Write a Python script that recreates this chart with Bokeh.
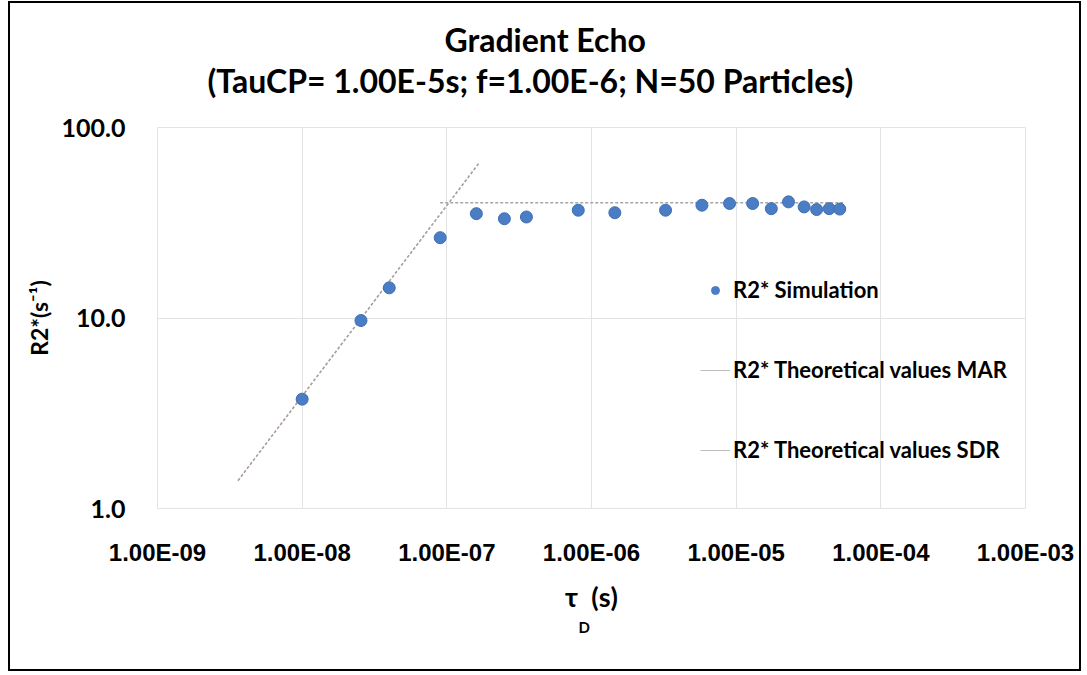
from bokeh.plotting import figure
from bokeh.models import (Range1d, FixedTicker, CustomJSTickFormatter, Legend,
                          LegendItem, Title, ColumnDataSource)
from bokeh.embed import file_html
from bokeh.resources import INLINE

# --- data -------------------------------------------------------------
x_ticks = [1e-9, 1e-8, 1e-7, 1e-6, 1e-5, 1e-4, 1e-3]
y_ticks = [1.0, 10.0, 100.0]

# simulated R2* against diffusion time tau_D
tau_sim = [1.0e-8, 2.55e-8, 4.0e-8, 9.0e-8, 1.6e-7, 2.5e-7, 3.55e-7, 8.1e-7,
           1.45e-6, 3.25e-6, 5.8e-6, 9.0e-6, 1.3e-5, 1.75e-5, 2.3e-5,
           2.95e-5, 3.6e-5, 4.4e-5, 5.2e-5]
r2_sim = [3.75, 9.7, 14.4, 26.4, 35.3, 33.2, 33.9, 36.8, 35.7, 36.8, 39.1,
          39.9, 39.9, 37.5, 40.7, 38.3, 37.1, 37.5, 37.3]

# theoretical regimes
tau_mar = [3.6e-9, 1.66e-7]
r2_mar = [1.40, 64.7]
tau_sdr = [9.0e-8, 5.5e-5]
r2_sdr = [40.3, 40.3]

TITLE_1 = "Gradient Echo"
TITLE_2 = "(TauCP= 1.00E-5s; f=1.00E-6; N=50 Particles)"
Y_LABEL = "R2*(s\u207b\u00b9)"
X_LABEL = "\u03c4\u2002(s)"   # tau, gap, (s); the subscript D sits in the gap
X_SUB = "D"

FONT = "Lato"
GRID = "#e3e3e3"
BLUE = "#4a7dc4"

p = figure(width=1073, height=670,
           x_axis_type="log", y_axis_type="log",
           x_range=Range1d(1e-9, 1e-3), y_range=Range1d(1, 100),
           output_backend="svg", toolbar_location=None,
           min_border_left=147, min_border_right=58,
           min_border_top=124, min_border_bottom=165,
           margin=(1, 0, 0, 8),
           styles={"border": "2px solid black"},
           background_fill_color="white", border_fill_color="white",
           outline_line_color=GRID)

# title block: a blank spacer next to the frame, then the two title lines
spacer = Title(text=" ", text_font_size="10px", standoff=15)
t2 = Title(text=TITLE_2, align="left", offset=50,
           text_font=FONT, text_font_size="32px", text_font_style="bold",
           text_color="black", standoff=0)
t1 = Title(text=TITLE_1, align="left", offset=287,
           text_font=FONT, text_font_size="32px", text_font_style="bold",
           text_color="black", standoff=0)
p.add_layout(spacer, "above")
p.add_layout(t2, "above")
p.add_layout(t1, "above")

# grid
p.xgrid.grid_line_color = GRID
p.ygrid.grid_line_color = GRID

# x axis
xa = p.xaxis[0]
xa.ticker = FixedTicker(ticks=x_ticks, minor_ticks=[])
xa.formatter = CustomJSTickFormatter(code="""
    const e = Math.round(Math.log10(tick));
    const a = Math.abs(e);
    return '1.00E' + (e < 0 ? '-' : '+') + (a < 10 ? '0' : '') + a;
""")
xa.major_label_text_font = "Liberation Sans"
xa.major_label_text_font_size = "24px"
xa.major_label_text_font_style = "bold"
xa.major_label_text_color = "black"
xa.major_label_standoff = 24
xa.axis_line_color = None
xa.major_tick_line_color = None
xa.minor_tick_line_color = None
xa.axis_label = X_LABEL
xa.axis_label_text_font = FONT
xa.axis_label_text_font_size = "27px"
xa.axis_label_text_font_style = "bold"
xa.axis_label_text_color = "black"
xa.axis_label_standoff = 11

# subscript D in the gap of the axis label
sub = Title(text=X_SUB, align="left", offset=421, standoff=0,
            text_font=FONT, text_font_size="15px", text_font_style="bold",
            text_color="black")
p.add_layout(sub, "below")

# y axis
ya = p.yaxis[0]
ya.ticker = FixedTicker(ticks=y_ticks, minor_ticks=[])
ya.formatter = CustomJSTickFormatter(code="return tick.toFixed(1);")
ya.major_label_text_font = FONT
ya.major_label_text_font_size = "25px"
ya.major_label_text_font_style = "bold"
ya.major_label_text_color = "black"
ya.major_label_standoff = 26
ya.axis_line_color = None
ya.major_tick_line_color = None
ya.minor_tick_line_color = None
ya.axis_label = Y_LABEL
ya.axis_label_text_font = FONT
ya.axis_label_text_font_size = "23px"
ya.axis_label_text_font_style = "bold"
ya.axis_label_text_color = "black"
ya.axis_label_standoff = 6

# theoretical lines
p.line(tau_mar, r2_mar, line_color="#a89c9c", line_width=1.6, line_dash="3 2")
p.line(tau_sdr, r2_sdr, line_color="#a6a6a6", line_width=1.6, line_dash="3 2")

# simulation points
p.scatter(tau_sim, r2_sim, size=12, fill_color=BLUE, line_color="#3f6fb3",
          line_width=1)

# legend glyph renderers, with their points outside the visible range
off = ColumnDataSource(data=dict(x=[1e-12, 2e-12], y=[1e-3, 1e-3]))
leg_pts = p.scatter("x", "y", source=off, size=9, fill_color=BLUE,
                    line_color=BLUE)
leg_mar = p.line("x", "y", source=off, line_color="#bfbfbf", line_width=1)
leg_sdr = p.line("x", "y", source=off, line_color="#bfbfbf", line_width=1)

legend = Legend(items=[
    LegendItem(label="R2* Simulation", renderers=[leg_pts]),
    LegendItem(label="R2* Theoretical values MAR", renderers=[leg_mar]),
    LegendItem(label="R2* Theoretical values SDR", renderers=[leg_sdr]),
], location=(543, 45))
legend.label_text_font = FONT
legend.label_text_font_size = "22px"
legend.label_text_font_style = "bold"
legend.label_text_color = "black"
legend.label_height = 20
legend.glyph_height = 20
legend.glyph_width = 30
legend.label_standoff = 3
legend.spacing = 53
legend.padding = 0
legend.margin = 0
legend.border_line_color = None
legend.background_fill_alpha = 0
p.add_layout(legend)

open("out.html", "w").write(file_html(p, INLINE))
